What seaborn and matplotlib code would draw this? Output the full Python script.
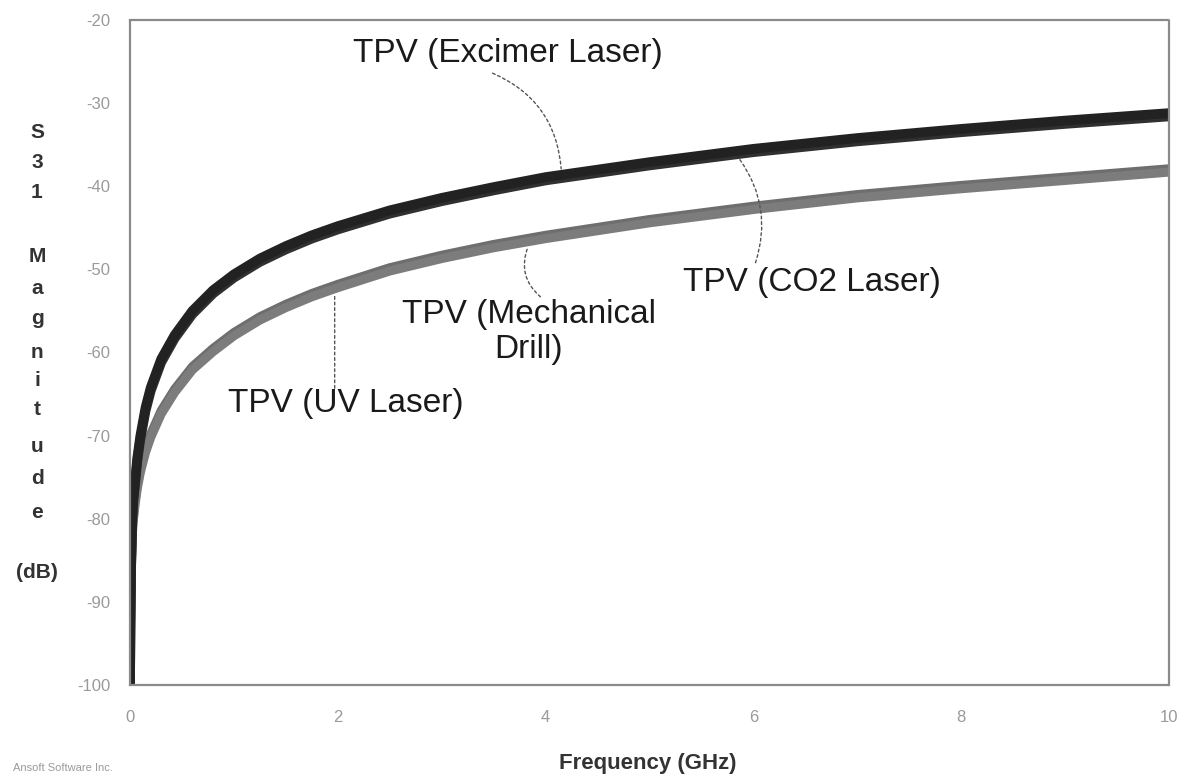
import matplotlib
matplotlib.use("Agg")
import matplotlib.pyplot as plt
import seaborn as sns

# ---------------- data ----------------
freq = [0.0, 0.005, 0.01, 0.02, 0.03, 0.05, 0.07, 0.10, 0.15, 0.20, 0.30, 0.43,
        0.60, 0.80, 1.0, 1.25, 1.5, 1.75, 2.0, 2.5, 3.0, 3.5, 4.0, 5.0, 6.0,
        7.0, 8.0, 9.0, 10.0]

excimer = [-100, -92.0, -86.0, -80.5, -77.8, -75.3, -72.7, -70.0, -66.6, -64.2,
           -60.8, -57.9, -55.0, -52.5, -50.6, -48.7, -47.2, -45.9, -44.8, -42.9,
           -41.4, -40.1, -38.9, -37.1, -35.5, -34.2, -33.1, -32.1, -31.2]
co2 = [-100, -92.4, -86.4, -80.9, -78.2, -75.7, -73.1, -70.4, -67.0, -64.6,
       -61.2, -58.3, -55.4, -52.9, -51.0, -49.1, -47.6, -46.3, -45.2, -43.3,
       -41.8, -40.5, -39.3, -37.5, -35.9, -34.6, -33.5, -32.5, -31.6]
mechanical = [-100, -92.6, -86.8, -82.0, -80.0, -77.8, -76.0, -74.0, -71.6, -69.8,
              -67.0, -64.4, -61.7, -59.5, -57.6, -55.7, -54.2, -52.9, -51.8, -49.8,
              -48.3, -47.0, -45.9, -44.0, -42.4, -41.0, -39.9, -38.9, -37.9]
uv = [-100, -93.0, -87.2, -82.4, -80.4, -78.2, -76.4, -74.4, -72.0, -70.2,
      -67.4, -64.8, -62.1, -59.9, -58.0, -56.1, -54.6, -53.3, -52.2, -50.2,
      -48.7, -47.4, -46.3, -44.4, -42.8, -41.4, -40.3, -39.3, -38.3]

x_ticks = [0, 2, 4, 6, 8, 10]
y_ticks = [-100, -90, -80, -70, -60, -50, -40, -30, -20]

labels = ["TPV (Excimer Laser)", "TPV (CO2 Laser)", "TPV (Mechanical\nDrill)", "TPV (UV Laser)"]
y_label_chars = ["S", "3", "1", "M", "a", "g", "n", "i", "t", "u", "d", "e", "(dB)"]
x_label = "Frequency (GHz)"
footer = "Ansoft Software Inc."

# ---------------- style ----------------
sns.set_theme(style="white")
plt.rcParams["font.family"] = ["Liberation Sans", "DejaVu Sans"]
plt.rcParams["axes.unicode_minus"] = False

W, H = 1185, 781
fig = plt.figure(figsize=(W / 100, H / 100), dpi=100)
ax = fig.add_axes([130 / W, 1 - 685 / H, (1169 - 130) / W, (685 - 20) / H])

line_kw = dict(ax=ax, sort=False, estimator=None, solid_joinstyle="round",
               solid_capstyle="butt")
sns.lineplot(x=freq, y=mechanical, color="#6e6e6e", linewidth=6.5, **line_kw)
sns.lineplot(x=freq, y=uv, color="#7c7c7c", linewidth=6.5, **line_kw)
sns.lineplot(x=freq, y=co2, color="#303030", linewidth=7.0, **line_kw)
sns.lineplot(x=freq, y=excimer, color="#222222", linewidth=7.0, **line_kw)

ax.set_xlim(0, 10)
ax.set_ylim(-100, -20)
ax.set_xticks(x_ticks)
ax.set_yticks(y_ticks)
ax.set_xticklabels([str(t) for t in x_ticks])
ax.set_yticklabels([str(t) for t in y_ticks])
ax.tick_params(axis="both", which="major", direction="out", length=4, width=1,
               color="#bbbbbb", labelcolor="#9a9a9a", labelsize=12)
ax.tick_params(axis="y", pad=10)
ax.tick_params(axis="x", pad=14)
ax.set_xlabel("")
ax.set_ylabel("")
for sp in ax.spines.values():
    sp.set_visible(True)
    sp.set_color("#8a8a8a")
    sp.set_linewidth(1.6)
    sp.set_linestyle((0, (1, 1)))

# ---------------- annotations ----------------
txt_kw = dict(fontsize=24, color="#1a1a1a")
lead_kw = dict(arrowstyle="-", color="#555555", lw=1.0, linestyle=(0, (2, 2)),
               shrinkA=0, shrinkB=0)

ax.text(2.15, -24.0, labels[0], ha="left", va="center", **txt_kw)
ax.annotate("", xy=(4.15, -37.9), xytext=(3.49, -26.4),
            arrowprops=dict(connectionstyle="arc3,rad=-0.3", **lead_kw))

ax.text(5.32, -51.6, labels[1], ha="left", va="center", **txt_kw)
ax.annotate("", xy=(5.87, -36.8), xytext=(6.02, -49.2),
            arrowprops=dict(connectionstyle="arc3,rad=0.25", **lead_kw))

ax.text(3.84, -57.5, labels[2], ha="center", va="center", linespacing=1.15, **txt_kw)
ax.annotate("", xy=(3.83, -47.3), xytext=(3.95, -53.3),
            arrowprops=dict(connectionstyle="arc3,rad=-0.35", **lead_kw))

ax.text(0.94, -66.1, labels[3], ha="left", va="center", **txt_kw)
ax.annotate("", xy=(1.97, -53.1), xytext=(1.97, -64.3),
            arrowprops=dict(connectionstyle="arc3,rad=0", **lead_kw))

# ---------------- axis labels ----------------
ys = [133, 163, 193, 257, 289, 319, 352, 381, 410, 447, 478, 512, 573]
for ch, yp in zip(y_label_chars, ys):
    fig.text(37 / W, 1 - yp / H, ch, ha="center", va="center",
             fontsize=15, fontweight="bold", color="#333333")

fig.text(648 / W, 1 - 763 / H, x_label, ha="center", va="center",
         fontsize=16, fontweight="bold", color="#333333")
fig.text(13 / W, 1 - 768 / H, footer, ha="left", va="center",
         fontsize=8, color="#9a9a9a")

fig.savefig("out.png", dpi=100)
